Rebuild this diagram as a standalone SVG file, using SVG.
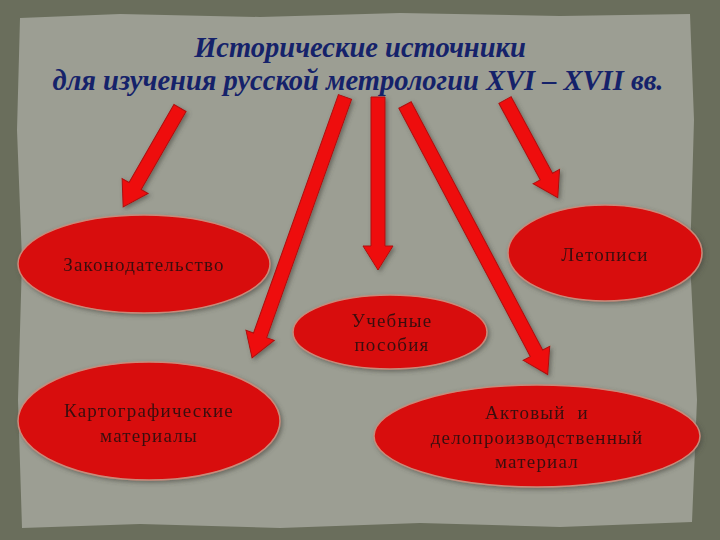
<svg xmlns="http://www.w3.org/2000/svg" width="720" height="540" viewBox="0 0 720 540">
<defs>
<style>
.node{fill:#d80c0c;stroke:#c98a7a;stroke-width:1.5}
.lbl{font-family:"Liberation Serif","DejaVu Serif",serif;font-size:19px;letter-spacing:1.2px;fill:#3a0c0c;text-anchor:middle}
.title{font-family:"Liberation Serif","DejaVu Serif",serif;font-style:italic;font-weight:bold;font-size:28.5px;fill:#15226a;text-anchor:middle}
.arr{fill:#ee1111;stroke:#b00c0c;stroke-width:1}
</style>
<filter id="sh" x="-20%" y="-20%" width="140%" height="140%">
<feDropShadow dx="2" dy="2" stdDeviation="2" flood-color="#4a4a40" flood-opacity="0.6"/>
</filter>
</defs>
<rect x="0" y="0" width="720" height="540" fill="#6a6e5c"/>
<path d="M20 18 L120 14 L260 17 L400 13 L560 16 L690 14 L694 120 L690 260 L697 400 L692 522 L560 527 L420 523 L280 528 L140 524 L22 528 L18 400 L22 260 L17 130 Z" fill="#9c9e93"/>
<g id="title">
<text class="title" x="360" y="57">Исторические источники</text>
<text class="title" x="358" y="90">для изучения русской метрологии XVI – XVII вв.</text>
</g>
<g id="connectors" filter="url(#sh)">
<polygon class="arr" transform="translate(180,108) rotate(119.9)" points="0,-7 90,-7 90,-15 114,0 90,15 90,7 0,7"/>
<polygon class="arr" transform="translate(345,97) rotate(109.6)" points="0,-7 253,-7 253,-15 277,0 253,15 253,7 0,7"/>
<polygon class="arr" transform="translate(378,97) rotate(90)" points="0,-7 149,-7 149,-15 173,0 149,15 149,7 0,7"/>
<polygon class="arr" transform="translate(405,105) rotate(62.1)" points="0,-7 281,-7 281,-15 305,0 281,15 281,7 0,7"/>
<polygon class="arr" transform="translate(505,100) rotate(61.6)" points="0,-7 87,-7 87,-15 111,0 87,15 87,7 0,7"/>
</g>
<g id="n-zakon" filter="url(#sh)">
<ellipse class="node" cx="144" cy="264" rx="126" ry="49"/>
<text class="lbl" x="144" y="271">Законодательство</text>
</g>
<g id="n-letopisi" filter="url(#sh)">
<ellipse class="node" cx="605" cy="253" rx="97" ry="48"/>
<text class="lbl" x="605" y="261">Летописи</text>
</g>
<g id="n-uchebnye" filter="url(#sh)">
<ellipse class="node" cx="390" cy="332" rx="97" ry="37"/>
<text class="lbl" x="392" y="327">Учебные</text>
<text class="lbl" x="392" y="351">пособия</text>
</g>
<g id="n-karto" filter="url(#sh)">
<ellipse class="node" cx="149" cy="421" rx="131" ry="59"/>
<text class="lbl" x="149" y="417">Картографические</text>
<text class="lbl" x="149" y="442">материалы</text>
</g>
<g id="n-akt" filter="url(#sh)">
<ellipse class="node" cx="537" cy="436" rx="163" ry="51"/>
<text class="lbl" x="537" y="419" xml:space="preserve">Актовый  и</text>
<text class="lbl" x="537" y="444">делопроизводственный</text>
<text class="lbl" x="537" y="468">материал</text>
</g>
</svg>
